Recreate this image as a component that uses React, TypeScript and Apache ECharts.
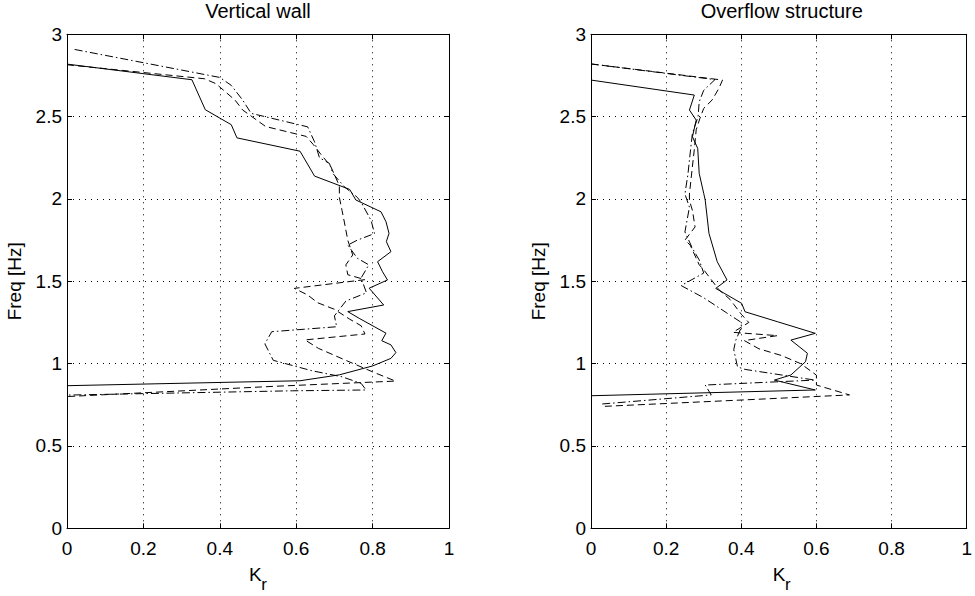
import React, { useEffect, useRef } from "react";
import * as echarts from "echarts";

// [Kr, Freq] pairs
const wallSolid: number[][] = [
  [0, 2.819], [0.327, 2.724], [0.362, 2.542], [0.43, 2.451], [0.445, 2.371], [0.61, 2.29],
  [0.648, 2.139], [0.74, 2.058], [0.756, 1.994], [0.822, 1.922], [0.835, 1.862], [0.843, 1.791],
  [0.836, 1.741], [0.848, 1.68], [0.813, 1.619], [0.826, 1.558], [0.839, 1.508], [0.791, 1.458],
  [0.829, 1.356], [0.735, 1.316], [0.765, 1.275], [0.804, 1.225], [0.835, 1.185], [0.824, 1.139],
  [0.848, 1.114], [0.861, 1.067], [0.848, 1.032], [0.8, 0.986], [0.713, 0.932], [0.61, 0.896],
  [0, 0.866],
];
const wallDashed: number[][] = [
  [0, 2.815], [0.36, 2.73], [0.39, 2.7], [0.41, 2.66], [0.44, 2.6], [0.46, 2.54], [0.52, 2.44],
  [0.626, 2.38], [0.645, 2.33], [0.665, 2.27], [0.69, 2.2], [0.713, 2.08], [0.713, 2.01],
  [0.72, 1.93], [0.726, 1.86], [0.735, 1.75], [0.748, 1.66], [0.73, 1.6], [0.735, 1.54],
  [0.78, 1.51], [0.595, 1.457], [0.63, 1.417], [0.656, 1.37], [0.7, 1.33], [0.74, 1.27],
  [0.77, 1.23], [0.78, 1.18], [0.623, 1.144], [0.658, 1.093], [0.72, 1.03], [0.8, 0.95],
  [0.86, 0.894], [0.54, 0.862], [0, 0.8],
];
const wallDashDot: number[][] = [
  [0.02, 2.908], [0.4, 2.738], [0.43, 2.69], [0.46, 2.6], [0.482, 2.52], [0.63, 2.438],
  [0.648, 2.347], [0.661, 2.25], [0.687, 2.216], [0.696, 2.155], [0.726, 2.074], [0.76, 2.01],
  [0.77, 1.98], [0.796, 1.87], [0.805, 1.79], [0.76, 1.75], [0.735, 1.72], [0.76, 1.64],
  [0.79, 1.6], [0.77, 1.52], [0.784, 1.43], [0.73, 1.38], [0.7, 1.29], [0.706, 1.224],
  [0.536, 1.194], [0.518, 1.12], [0.54, 1.02], [0.641, 0.957], [0.72, 0.92], [0.77, 0.88],
  [0.783, 0.84], [0.59, 0.835], [0, 0.809],
];

const overflowSolid: number[][] = [
  [0, 2.722], [0.275, 2.631], [0.262, 2.54], [0.28, 2.479], [0.27, 2.378], [0.284, 2.307],
  [0.288, 2.155], [0.3, 2.034], [0.304, 1.993], [0.314, 1.791], [0.336, 1.619], [0.362, 1.508],
  [0.332, 1.457], [0.401, 1.366], [0.41, 1.315], [0.497, 1.254], [0.597, 1.184], [0.532, 1.143],
  [0.576, 1.063], [0.571, 1.012], [0.532, 0.931], [0.488, 0.9], [0.597, 0.84], [0, 0.805],
];
const overflowDashed: number[][] = [
  [0, 2.82], [0.35, 2.722], [0.34, 2.67], [0.322, 2.6], [0.3, 2.55], [0.29, 2.49], [0.28, 2.42],
  [0.275, 2.3], [0.27, 2.2], [0.262, 2.03], [0.262, 1.99], [0.27, 1.93], [0.277, 1.83],
  [0.25, 1.75], [0.264, 1.72], [0.288, 1.6], [0.3, 1.57], [0.32, 1.51], [0.34, 1.45],
  [0.37, 1.39], [0.38, 1.36], [0.4, 1.3], [0.42, 1.25], [0.378, 1.19], [0.496, 1.17],
  [0.408, 1.14], [0.447, 1.09], [0.506, 1.05], [0.558, 1.0], [0.6, 0.93], [0.6, 0.87],
  [0.688, 0.81], [0.41, 0.78], [0.03, 0.74],
];
const overflowDashDot: number[][] = [
  [0, 2.82], [0.33, 2.725], [0.3, 2.66], [0.288, 2.59], [0.285, 2.5], [0.27, 2.4], [0.265, 2.3],
  [0.258, 2.15], [0.25, 2.03], [0.262, 1.95], [0.25, 1.8], [0.27, 1.7], [0.288, 1.63],
  [0.3, 1.55], [0.24, 1.474], [0.3, 1.4], [0.36, 1.31], [0.4, 1.25], [0.4, 1.22],
  [0.385, 1.14], [0.38, 1.085], [0.39, 0.98], [0.41, 0.965], [0.596, 0.9], [0.304, 0.87],
  [0.32, 0.81], [0.03, 0.755],
];

const xTicks = [0, 0.2, 0.4, 0.6, 0.8, 1];
const yTicks = [0, 0.5, 1, 1.5, 2, 2.5, 3];
const panelTitles = ["Vertical wall", "Overflow structure"];
const yName = "Freq [Hz]";

const FONT = "'Liberation Sans', Arial, Helvetica, sans-serif";
const GRIDS = [
  { left: 67, top: 34.3, width: 382, height: 494 },
  { left: 591, top: 34.3, width: 381.5, height: 494 },
];

export default function App() {
  const ref = useRef<HTMLDivElement>(null);
  useEffect(() => {
    if (!ref.current) return;
    const chart = echarts.init(ref.current, null, { renderer: "svg" });
    const xInt = xTicks[1] - xTicks[0];
    const yInt = yTicks[1] - yTicks[0];
    const tick = { show: true, inside: true, length: 5, lineStyle: { color: "#000", width: 1 } };
    const axisLine = { show: true, onZero: false, lineStyle: { color: "#000", width: 1 } };
    const split = { show: true, lineStyle: { color: "#000", width: 1, type: [1, 5] as any } };
    const label = { color: "#000", fontSize: 19, fontFamily: FONT };
    const xAxis: any[] = [];
    const yAxis: any[] = [];
    GRIDS.forEach((_, i) => {
      xAxis.push({
        gridIndex: i, type: "value", position: "bottom",
        min: xTicks[0], max: xTicks[xTicks.length - 1], interval: xInt,
        axisLine, axisTick: tick, splitLine: split,
        axisLabel: { ...label, margin: 11 },
      });
      xAxis.push({
        gridIndex: i, type: "value", position: "top",
        min: xTicks[0], max: xTicks[xTicks.length - 1], interval: xInt,
        axisLine, axisTick: tick, splitLine: { show: false }, axisLabel: { show: false },
      });
      yAxis.push({
        gridIndex: i, type: "value", position: "left",
        min: yTicks[0], max: yTicks[yTicks.length - 1], interval: yInt,
        axisLine, axisTick: tick, splitLine: split,
        axisLabel: { ...label, margin: 5 },
      });
      yAxis.push({
        gridIndex: i, type: "value", position: "right",
        min: yTicks[0], max: yTicks[yTicks.length - 1], interval: yInt,
        axisLine, axisTick: tick, splitLine: { show: false }, axisLabel: { show: false },
      });
    });
    const mk = (data: number[][], panel: number, type: any) => ({
      type: "line",
      data,
      xAxisIndex: panel * 2,
      yAxisIndex: panel * 2,
      showSymbol: false,
      symbol: "none",
      silent: true,
      lineStyle: { color: "#000", width: 1, type },
    });
    const DASH = [7, 4];
    const DASHDOT = [8, 3, 1.5, 3];
    const graphic: any[] = [];
    GRIDS.forEach((g, i) => {
      const cx = g.left + g.width / 2;
      graphic.push({
        type: "text", x: cx, y: 10.8,
        style: { text: panelTitles[i], fill: "#000", font: `20px ${FONT}`, align: "center", verticalAlign: "middle" },
      });
      graphic.push({
        type: "text", x: cx - 2.7, y: 574,
        style: { text: "K", fill: "#000", font: `19px ${FONT}`, align: "center", verticalAlign: "middle" },
      });
      graphic.push({
        type: "text", x: cx + 3.2, y: 584,
        style: { text: "r", fill: "#000", font: `17px ${FONT}`, align: "left", verticalAlign: "middle" },
      });
      graphic.push({
        type: "text", x: g.left - 53, y: g.top + g.height / 2, rotation: Math.PI / 2,
        style: { text: yName, fill: "#000", font: `19px ${FONT}`, align: "center", verticalAlign: "middle" },
      });
    });
    chart.setOption({
      animation: false,
      backgroundColor: "#fff",
      grid: GRIDS.map((g) => ({ ...g, containLabel: false })),
      xAxis,
      yAxis,
      series: [
        mk(wallSolid, 0, "solid"),
        mk(wallDashed, 0, DASH),
        mk(wallDashDot, 0, DASHDOT),
        mk(overflowSolid, 1, "solid"),
        mk(overflowDashed, 1, DASH),
        mk(overflowDashDot, 1, DASHDOT),
      ],
      graphic,
    });
    return () => chart.dispose();
  }, []);
  return (
    <div
      ref={ref}
      style={{ position: "absolute", left: 0, top: 0, width: 975, height: 596, background: "#fff" }}
    />
  );
}
